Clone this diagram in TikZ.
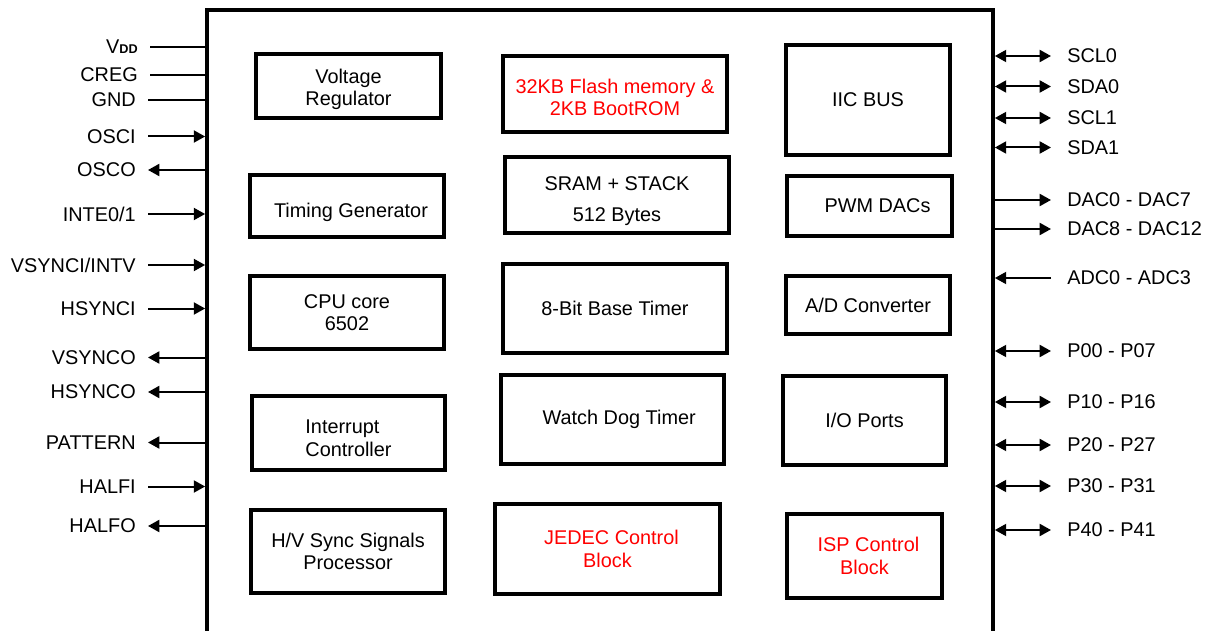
\documentclass[tikz,border=0pt]{standalone}
\usepackage{fontspec}
\setmainfont{Liberation Sans}
\usetikzlibrary{arrows.meta,fit}

\tikzset{
  chip/.style={draw, line width=2.8pt, inner sep=0pt},
  block/.style={draw, line width=2.6pt, align=center, inner sep=0pt,
    font=\fontsize{14.9}{17}\selectfont},
  box size/.style 2 args={minimum width=#1*0.75pt, minimum height=#2*0.75pt},
  hot/.style={text=red},
  pin left/.style={anchor=east, inner xsep=9pt, inner ysep=0pt,
    font=\fontsize{14.9}{17}\selectfont},
  pin right/.style={anchor=west, inner xsep=12pt, inner ysep=0pt,
    font=\fontsize{14.9}{17}\selectfont},
  wire/.style={line width=1.5pt},
  sig/.style={wire, -{Triangle[length=8.5pt,width=9pt]}},
  bus/.style={wire, {Triangle[length=8.5pt,width=9pt]}-{Triangle[length=8.5pt,width=9pt]}}
}

\begin{document}
\begin{tikzpicture}[x=0.75pt, y=-0.75pt]
  \useasboundingbox (0,0) rectangle (1209,631);

  % the chip outline
  \node[chip, fit={(207,10) (993,690)}] (chip) {};

  % left column
  \node[block, box size={185}{64}] (vreg) at (348.5,86) {\rule{0pt}{16pt}Voltage\\Regulator};
  \node[block, box size={194}{62}] (timing) at (347,206) {\rule{0pt}{20pt}\hspace*{6pt}Timing Generator};
  \node[block, box size={194}{73}] (cpu) at (347,312.5) {CPU core\\6502};
  \node[block, box size={193}{74}, align=left] (intr) at (348.5,433) {\rule{0pt}{18pt}Interrupt\\Controller};
  \node[block, box size={194}{83}] (hvsync) at (348,551.5) {H/V Sync Signals\\Processor};

  % middle column
  \node[block, hot, box size={224}{76}] (flash) at (615,94) {\rule{0pt}{16pt}32KB Flash memory \&\\2KB BootROM};
  \node[block, box size={224}{76}] (sram) at (617,195) {\rule{0pt}{20pt}SRAM + STACK\\[6pt]512 Bytes};
  \node[block, box size={224}{89}] (timer) at (615,308.5) {8-Bit Base Timer};
  \node[block, box size={223}{89}] (wdt) at (612.5,419.5) {\hspace*{10pt}Watch Dog Timer};
  \node[block, hot, box size={225}{90}] (jedec) at (607.5,549) {\hspace*{6pt}JEDEC Control\\Block};

  % right column
  \node[block, box size={164}{110}] (iic) at (868,100) {IIC BUS};
  \node[block, box size={165}{60}] (pwm) at (869.5,206) {\hspace*{12pt}PWM DACs};
  \node[block, box size={164}{58}] (adc) at (868,305) {A/D Converter};
  \node[block, box size={163}{89}] (io) at (864.5,420.5) {I/O Ports};
  \node[block, hot, box size={155}{84}] (isp) at (864.5,556) {\hspace*{6pt}ISP Control\\Block};

  % left pins
  \node[pin left] (vdd) at (150,47) {V{\fontsize{9.5}{9.5}\selectfont\bfseries DD}};
  \node[pin left] (creg) at (150,75) {CREG};
  \node[pin left] (gnd) at (148,100) {GND};
  \node[pin left] (osci) at (148,136.5) {OSCI};
  \node[pin left] (osco) at (148,170) {OSCO};
  \node[pin left] (inte) at (148,214) {INTE0/1};
  \node[pin left] (vsynci) at (148,265) {VSYNCI/INTV};
  \node[pin left] (hsynci) at (148,308.5) {HSYNCI};
  \node[pin left] (vsynco) at (148,357.5) {VSYNCO};
  \node[pin left] (hsynco) at (148,392) {HSYNCO};
  \node[pin left] (pattern) at (148,442.5) {PATTERN};
  \node[pin left] (halfi) at (148,486.5) {HALFI};
  \node[pin left] (halfo) at (148,526) {HALFO};

  \draw[wire] (vdd.east) -- (vdd.east -| chip.west);
  \draw[wire] (creg.east) -- (creg.east -| chip.west);
  \draw[wire] (gnd.east) -- (gnd.east -| chip.west);
  \draw[sig] (osci.east) -- (osci.east -| chip.west);
  \draw[sig] (osco.east -| chip.west) -- (osco.east);
  \draw[sig] (inte.east) -- (inte.east -| chip.west);
  \draw[sig] (vsynci.east) -- (vsynci.east -| chip.west);
  \draw[sig] (hsynci.east) -- (hsynci.east -| chip.west);
  \draw[sig] (vsynco.east -| chip.west) -- (vsynco.east);
  \draw[sig] (hsynco.east -| chip.west) -- (hsynco.east);
  \draw[sig] (pattern.east -| chip.west) -- (pattern.east);
  \draw[sig] (halfi.east) -- (halfi.east -| chip.west);
  \draw[sig] (halfo.east -| chip.west) -- (halfo.east);

  % right pins
  \node[pin right] (scl0) at (1051,56) {SCL0};
  \node[pin right] (sda0) at (1051,86.5) {SDA0};
  \node[pin right] (scl1) at (1051,118) {SCL1};
  \node[pin right] (sda1) at (1051,147.5) {SDA1};
  \node[pin right] (daclo) at (1051,200) {DAC0 - DAC7};
  \node[pin right] (dachi) at (1051,229) {DAC8 - DAC12};
  \node[pin right] (adcin) at (1051,278) {ADC0 - ADC3};
  \node[pin right] (port0) at (1051,351) {P00 - P07};
  \node[pin right] (port1) at (1051,402) {P10 - P16};
  \node[pin right] (port2) at (1051,445) {P20 - P27};
  \node[pin right] (port3) at (1051,486) {P30 - P31};
  \node[pin right] (port4) at (1051,530) {P40 - P41};

  \draw[bus] (scl0.west -| chip.east) -- (scl0.west);
  \draw[bus] (sda0.west -| chip.east) -- (sda0.west);
  \draw[bus] (scl1.west -| chip.east) -- (scl1.west);
  \draw[bus] (sda1.west -| chip.east) -- (sda1.west);
  \draw[sig] (daclo.west -| chip.east) -- (daclo.west);
  \draw[sig] (dachi.west -| chip.east) -- (dachi.west);
  \draw[sig] (adcin.west) -- (adcin.west -| chip.east);
  \draw[bus] (port0.west -| chip.east) -- (port0.west);
  \draw[bus] (port1.west -| chip.east) -- (port1.west);
  \draw[bus] (port2.west -| chip.east) -- (port2.west);
  \draw[bus] (port3.west -| chip.east) -- (port3.west);
  \draw[bus] (port4.west -| chip.east) -- (port4.west);
\end{tikzpicture}
\end{document}
